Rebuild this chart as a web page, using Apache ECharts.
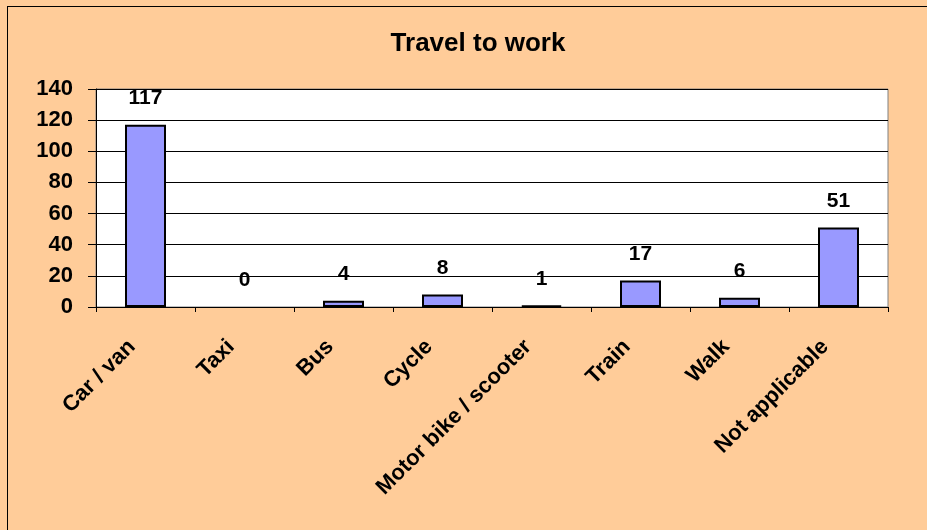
<!DOCTYPE html>
<html><head><meta charset="utf-8">
<script src="https://cdn.jsdelivr.net/npm/echarts@6/dist/echarts.min.js"></script>
<style>html,body{margin:0;padding:0;background:#FFCC99;}#c{width:927px;height:530px;}</style>
</head><body><div id="c"></div>
<script>
const categories = ["Car / van","Taxi","Bus","Cycle","Motor bike / scooter","Train","Walk","Not applicable"];
const values = [117,0,4,8,1,17,6,51];
const yTicks = [0,20,40,60,80,100,120,140];
const titleText = "Travel to work";

const chart = echarts.init(document.getElementById('c'), null, {renderer:'canvas'});
const font = 'Liberation Sans, Arial, sans-serif';
chart.setOption({
  backgroundColor: '#FFCC99',
  animation: false,
  title: {
    text: titleText, left: 473, top: 26, textAlign: 'center',
    textStyle: {fontFamily: font, fontSize: 26, fontWeight: 'bold', color: '#000'}
  },
  graphic: [
    {type:'line', shape:{x1:7,y1:6.5,x2:927,y2:6.5}, style:{stroke:'#000',lineWidth:1}},
    {type:'line', shape:{x1:7.5,y1:6,x2:7.5,y2:530}, style:{stroke:'#000',lineWidth:1}}
  ],
  grid: {
    left: 96, right: 927-888, top: 89, bottom: 530-307,
    show: true, backgroundColor: '#fff', borderColor: '#808080', borderWidth: 1
  },
  xAxis: {
    type: 'category', data: categories,
    axisLine: {show: true, lineStyle: {color: '#000', width: 1}},
    axisTick: {show: true, length: 5, alignWithLabel: false, lineStyle: {color: '#000'}},
    axisLabel: {rotate: 45, interval: 0, margin: 23, padding: [0, 19, 0, 0], fontFamily: font, fontSize: 22, fontWeight: 'bold', color: '#000'}
  },
  yAxis: {
    type: 'value', min: yTicks[0], max: yTicks[yTicks.length-1], interval: 20,
    axisLine: {show: true, lineStyle: {color: '#000', width: 1}},
    axisTick: {show: true, length: 8, lineStyle: {color: '#000'}},
    splitLine: {show: true, lineStyle: {color: '#000', width: 1}},
    axisLabel: {margin: 23, fontFamily: font, fontSize: 22, fontWeight: 'bold', color: '#000'}
  },
  series: [{
    type: 'bar',
    data: values.map(v => v === 0 ? {value: v, itemStyle: {borderWidth: 0}} : v),
    barWidth: 41,
    itemStyle: {color: '#9999FF', borderColor: '#000', borderWidth: 2},
    label: {show: true, position: 'top', distance: 16, fontFamily: font, fontSize: 21, fontWeight: 'bold', color: '#000'}
  }]
});
</script></body></html>
